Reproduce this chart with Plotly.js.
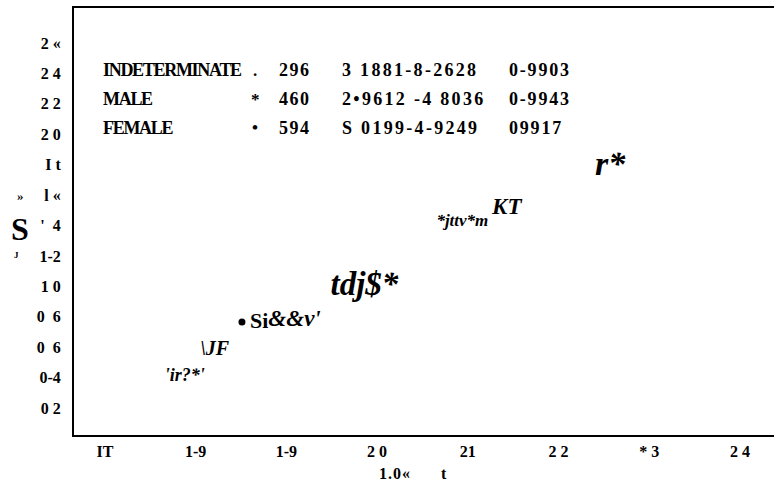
<!DOCTYPE html>
<html>
<head>
<meta charset="utf-8">
<script src="https://cdn.plot.ly/plotly-3.0.1.min.js"></script>
<style>html,body{margin:0;padding:0;background:#fff;}#chart{width:774px;height:482px;}</style>
</head>
<body>
<div id="chart"></div>
<script>
// ---- data ----
var xTickVals = [1.7, 1.8, 1.9, 2.0, 2.1, 2.2, 2.3, 2.4];
var xTickText = ["IT", "1-9", "1-9", "2 0", "21", "2 2", "* 3", "2 4"];
var yTickVals = [0.2, 0.4, 0.6, 0.8, 1.0, 1.2, 1.4, 1.6, 1.8, 2.0, 2.2, 2.4, 2.6];
var yTickText = ["0 2", "0-4", "0  6", "0  6", "1 0", "1-2", "'  4", "l «", "I t", "2 0", "2 2", "2 4", "2 «"];

var labelText = ["r*", "KT", "*jttv*m", "tdj$*", "Si", "&&v'", "\\JF", "'ir?*'"];
var labelX    = [2.257, 2.143, 2.094, 1.986, 1.870, 1.909, 1.821, 1.788];
var labelY    = [1.785, 1.516, 1.424, 0.996, 0.762, 0.777, 0.582, 0.404];
var labelItalic = [true, true, true, true, false, true, true, true];
var labelSize = [34, 23, 17, 33, 22, 23, 20, 18];

var pointX = [1.851];
var pointY = [0.766];

var tableNames   = ["INDETERMINATE", "MALE", "FEMALE"];
var tableSymbols = [".", "*", "•"];
var tableN       = ["296", "460", "594"];
var tableEq      = ["3 1881-8-2628", "2•9612 -4 8036", "S 0199-4-9249"];
var tableR       = ["0-9903", "0-9943", "09917"];

var xTitle = "1.0«      t";

// ---- layout constants ----
var W = 774, H = 482;
var mL = 74, mR = 0, mT = 8, mB = 47;
var pw = W - mL - mR, ph = H - mT - mB;
function px2paperX(px){ return (px - mL) / pw; }
function py2paperY(py){ return (H - mB - py) / ph; }

var FONT = "Liberation Serif";

var traces = [
  {
    type: "scatter", mode: "text",
    x: labelX, y: labelY,
    text: labelText.map(function(t, i){ return labelItalic[i] ? "<b><i>" + t + "</i></b>" : "<b>" + t + "</b>"; }),
    textposition: "middle center",
    textfont: { family: FONT, size: labelSize, color: "#000" },
    hoverinfo: "skip", showlegend: false
  },
  {
    type: "scatter", mode: "markers",
    x: pointX, y: pointY,
    marker: { color: "#000", size: 7, symbol: "circle" },
    hoverinfo: "skip", showlegend: false
  }
];

var annotations = [];
var rowY = [70, 99, 128];
function addText(txt, px, py, size, anchor, spacing){
  var inner = spacing ? '<span style="letter-spacing:' + spacing + 'px">' + txt + '</span>' : txt;
  annotations.push({
    xref: "paper", yref: "paper",
    x: px2paperX(px), y: py2paperY(py),
    xanchor: anchor || "left", yanchor: "middle",
    text: "<b>" + inner + "</b>", showarrow: false,
    font: { family: FONT, size: size, color: "#000" }
  });
}
for (var i = 0; i < tableNames.length; i++) {
  addText(tableNames[i], 101, rowY[i], 18, "left", -1.3);
  addText(tableSymbols[i], 255, rowY[i], 17, "center");
  addText(tableN[i], 295, rowY[i], 18, "center", 1.5);
  addText(tableEq[i], 340, rowY[i], 18, "left", 2.3);
  addText(tableR[i], 507, rowY[i], 18, "left", 1.8);
}
// garbled y-axis title pieces
addText("S", 20, 229, 32, "center");
addText("J", 16, 255, 9, "center");
addText("»", 20, 195, 13, "center");
// x-axis title
addText(xTitle, 413, 473, 16, "center", 1);

var layout = {
  width: W, height: H,
  margin: { l: mL, r: mR, t: mT, b: mB, pad: 0 },
  paper_bgcolor: "#fff", plot_bgcolor: "#fff",
  font: { family: FONT, color: "#000" },
  showlegend: false,
  xaxis: {
    range: [1.7 + (mL - 105) / 907, 1.7 + (W - mR - 105) / 907],
    tickvals: xTickVals, ticktext: xTickText,
    tickfont: { family: FONT, size: 16, color: "#000", weight: "bold" },
    ticks: "outside", ticklen: 1, tickcolor: "rgba(0,0,0,0)",
    showgrid: false, zeroline: false,
    showline: true, linecolor: "#000", linewidth: 2, mirror: true
  },
  yaxis: {
    range: [0.2 - 27 / 152, 2.6 + 35 / 152],
    tickvals: yTickVals, ticktext: yTickText,
    tickfont: { family: FONT, size: 16, color: "#000", weight: "bold" },
    ticks: "outside", ticklen: 8, tickcolor: "rgba(0,0,0,0)",
    showgrid: false, zeroline: false,
    showline: true, linecolor: "#000", linewidth: 2, mirror: false
  },
  annotations: annotations
};

Plotly.newPlot("chart", traces, layout, { staticPlot: true, displayModeBar: false });
</script>
</body>
</html>
